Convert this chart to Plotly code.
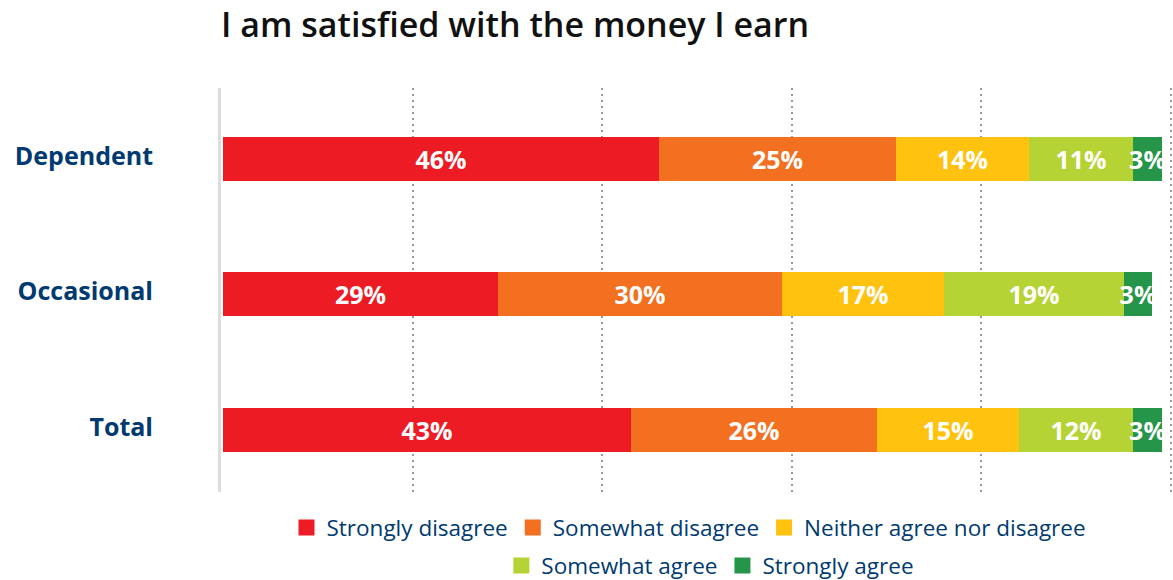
import plotly.graph_objects as go

# Survey responses: share of respondents per answer, by group
groups = ["Total", "Occasional", "Dependent"]
answers = ["Strongly disagree", "Somewhat disagree", "Neither agree nor disagree",
           "Somewhat agree", "Strongly agree"]
strongly_disagree = [43, 29, 46]
somewhat_disagree = [26, 30, 25]
neither = [15, 17, 14]
somewhat_agree = [12, 19, 11]
strongly_agree = [3, 3, 3]

series = [strongly_disagree, somewhat_disagree, neither, somewhat_agree, strongly_agree]
colors = ["#ED1C24", "#F37021", "#FFC20E", "#B5D334", "#25954A"]
navy = "#003A70"
font_family = "Open Sans"

fig = go.Figure()

for name, values, color in zip(answers, series, colors):
    fig.add_trace(go.Bar(
        y=groups, x=values, name=name, orientation="h",
        marker=dict(color=color, line=dict(width=0)),
        width=0.325,
        text=[f"{v}%" for v in values],
        textposition="inside", insidetextanchor="middle",
        textangle=0, constraintext="none",
        textfont=dict(family=font_family, size=25, color="white", weight="bold"),
        showlegend=False, hoverinfo="skip",
    ))

# Legend entries: two centred rows
for i, (name, color) in enumerate(zip(answers, colors)):
    fig.add_trace(go.Scatter(
        x=[None], y=[None], mode="markers", name=name,
        marker=dict(symbol="square", size=18, color=color),
        legend="legend" if i < 3 else "legend2",
    ))

legend_style = dict(
    orientation="h", xanchor="center", yanchor="middle", traceorder="normal",
    font=dict(family=font_family, size=22.5, color=navy),
    bgcolor="rgba(0,0,0,0)", itemclick=False, itemdoubleclick=False,
    tracegroupgap=0,
)

fig.update_layout(
    width=1173, height=580,
    margin=dict(l=221, r=0, t=88, b=88, autoexpand=False),
    paper_bgcolor="white", plot_bgcolor="white",
    barmode="stack", bargap=0,
    title=dict(
        text="I am satisfied with the money I earn",
        x=0, xref="paper", xanchor="left",
        y=1 - 25 / 580, yref="container", yanchor="middle",
        font=dict(family=font_family, size=34, color="#111111", weight=600),
    ),
    xaxis=dict(
        range=[-0.2, 100.2], showticklabels=False, zeroline=False,
        tickvals=[20, 40, 60, 80, 100],
        showgrid=True, gridcolor="#9A9A9A", gridwidth=2, griddash="2px,4px",
        fixedrange=True,
    ),
    yaxis=dict(
        range=[-0.458, 2.524], showgrid=False, zeroline=False,
        showline=True, linecolor="#DCDDDE", linewidth=3,
        ticks="", ticklabelstandoff=60, ticklabelshift=-3,
        tickfont=dict(family=font_family, size=25, color=navy, weight="bold"),
        fixedrange=True,
    ),
    legend=dict(x=0.4916, y=-0.089, **legend_style),
    legend2=dict(x=0.514, y=-0.183, **legend_style),
)

fig.write_html("out.html")
